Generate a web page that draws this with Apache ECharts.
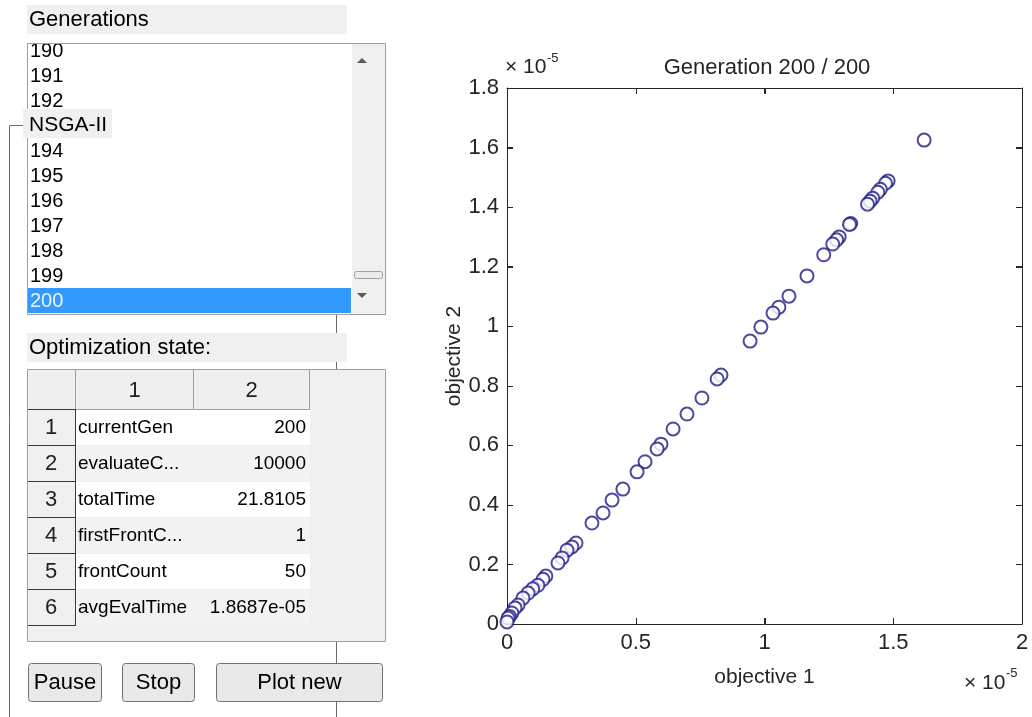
<!DOCTYPE html>
<html><head><meta charset="utf-8">
<script src="https://cdn.jsdelivr.net/npm/echarts@6/dist/echarts.min.js"></script>
<style>html,body{margin:0;padding:0;background:#fff}#chart{width:1032px;height:717px}#err{position:absolute;left:520px;top:300px;color:red;font:12px monospace;white-space:pre-wrap;width:500px}</style>
</head><body><div id="chart"></div><div id="err"></div>
<script>
window.onerror = function (m, s, l, c, e) { document.getElementById('err').textContent += m + ' ' + (e && e.stack ? e.stack : '') + '\n'; };

// ---- data (objective values in units of 1e-5) ----
const objective1 = [1.62, 1.48, 1.47, 1.45, 1.44, 1.42, 1.41, 1.40, 1.335, 1.33, 1.29, 1.28, 1.265, 1.23, 1.165, 1.095, 1.056, 1.033, 0.986, 0.944, 0.831, 0.816, 0.757, 0.699, 0.645, 0.598, 0.583, 0.536, 0.505, 0.450, 0.408, 0.373, 0.330, 0.268, 0.252, 0.233, 0.214, 0.198, 0.151, 0.140, 0.120, 0.100, 0.082, 0.062, 0.043, 0.031, 0.019, 0.010, 0.004, 0.000];
const objective2 = [1.625, 1.488, 1.48, 1.46, 1.45, 1.43, 1.42, 1.41, 1.345, 1.342, 1.30, 1.29, 1.276, 1.24, 1.169, 1.101, 1.064, 1.044, 0.997, 0.950, 0.836, 0.823, 0.759, 0.705, 0.655, 0.604, 0.588, 0.545, 0.511, 0.453, 0.416, 0.373, 0.339, 0.272, 0.259, 0.248, 0.222, 0.205, 0.161, 0.150, 0.130, 0.118, 0.104, 0.087, 0.064, 0.054, 0.037, 0.025, 0.020, 0.007];
const xTicks = [0.5, 1, 1.5];
const yTicks = [0.2, 0.4, 0.6, 0.8, 1, 1.2, 1.4, 1.6];
const generationItems = ['190','191','192','193','194','195','196','197','198','199','200'];
const selectedGeneration = '200';
const tableColumns = ['1', '2'];
const stateRowIds = ['1','2','3','4','5','6'];
const stateNames = ['currentGen', 'evaluateC...', 'totalTime', 'firstFrontC...', 'frontCount', 'avgEvalTime'];
const stateValues = ['200', '10000', '21.8105', '1', '50', '1.8687e-05'];
const buttonLabels = ['Pause', 'Stop', 'Plot new'];
const titleText = 'Generation 200 / 200';
const xName = 'objective 1', yName = 'objective 2';
const panelTitle = 'NSGA-II', listTitle = 'Generations', stateTitle = 'Optimization state:';
const scaleBase = '× 10', scaleExp = '-5';

const FONT = '"Liberation Sans", Arial, Helvetica, sans-serif';
const AX = '#262626';
const XMAX = 2, YMAX = 1.8, TICK = 6;
const G = [];
function rect(x, y, w, h, style, z, r) { const el = { type: 'rect', silent: true, shape: { x, y, width: w, height: h }, style, z: z || 1 }; if (r) el.shape.r = r; G.push(el); }
function line(x1, y1, x2, y2, stroke, z) { G.push({ type: 'line', silent: true, shape: { x1, y1, x2, y2 }, style: { stroke, lineWidth: 1 }, z: z || 1 }); }
function text(x, y, t, size, opts, z) { G.push({ type: 'text', silent: true, x, y, style: Object.assign({ text: t, font: size + 'px ' + FONT, fill: '#000', verticalAlign: 'middle', align: 'left' }, opts || {}), z: z || 3 }); }
function poly(points, fill, z) { G.push({ type: 'polygon', silent: true, shape: { points }, style: { fill }, z: z || 3 }); }

// NSGA-II panel frame
line(9.5, 125.5, 23, 125.5, '#6a6a6a', 1);
line(9.5, 125.5, 9.5, 717, '#6a6a6a', 1);
line(336.5, 125.5, 336.5, 717, '#6a6a6a', 1);
// Generations list
rect(27, 5, 320, 29, { fill: '#f0f0f0' }, 2);
text(29, 20, listTitle, 22, {}, 3);
rect(27.5, 43.5, 358, 271, { fill: '#fff', stroke: '#a0a0a0', lineWidth: 1 }, 4);
generationItems.forEach((g, i) => {
  const cy = 51 + i * 25;
  if (g === selectedGeneration) {
    rect(28, cy - 13, 323, 25, { fill: '#3399ff' }, 5);
    text(30, cy, g, 20, { fill: '#eaf3ff' }, 6);
  } else {
    text(30, cy, g, 20, {}, 6);
  }
});
rect(27, 35, 360, 8, { fill: '#fff' }, 7);
rect(352, 44, 33, 270, { fill: '#f0f0f0' }, 7);
rect(27.5, 43.5, 358, 271, { fill: 'none', stroke: '#a0a0a0', lineWidth: 1 }, 8);
poly([[357, 63], [367, 63], [362, 58]], '#5a5a5a', 8);
poly([[357, 293], [367, 293], [362, 298]], '#5a5a5a', 8);
rect(354.5, 271.5, 28, 7, { fill: '#ebebeb', stroke: '#a0a0a0', lineWidth: 1 }, 8, 2);
// NSGA-II title
rect(23, 109, 89, 29, { fill: '#f0f0f0' }, 10);
text(29, 125, panelTitle, 21, {}, 11);
// state table
rect(27, 333, 320, 29, { fill: '#f0f0f0' }, 2);
text(29, 348, stateTitle, 22, {}, 3);
rect(27.5, 369.5, 358, 272, { fill: '#f0f0f0', stroke: '#a0a0a0', lineWidth: 1 }, 2);
const colX = [28, 75.5, 193.5, 309.5];
rect(28, 370, 282, 39, { fill: '#efefef' }, 3);
[75.5, 193.5, 309.5].forEach(x => line(x, 370, x, 409, '#a0a0a0', 4));
line(75, 409.5, 310, 409.5, '#a0a0a0', 4);
tableColumns.forEach((c, i) => text((colX[i + 1] + colX[i + 2]) / 2, 391, c, 22, { align: 'center', fill: '#222' }, 5));
stateRowIds.forEach((id, i) => {
  const y0 = 409 + i * 36, cy = y0 + 19;
  rect(76, y0 + 1, 234, 35, { fill: i % 2 === 0 ? '#ffffff' : '#f3f3f3' }, 3);
  text(51, cy, id, 22, { align: 'center', fill: '#222' }, 5);
  text(78, cy, stateNames[i], 19, {}, 5);
  text(306, cy, stateValues[i], 19, { align: 'right' }, 5);
  line(28, y0 + 36.5, 75, y0 + 36.5, '#3a3a3a', 4);
});
line(28, 409.5, 75, 409.5, '#3a3a3a', 4);
line(75.5, 409, 75.5, 626, '#3a3a3a', 4);
// buttons
const btns = [[28, 73], [122, 72], [216, 166]];
buttonLabels.forEach((b, i) => {
  const [x, w] = btns[i];
  rect(x + 0.5, 663.5, w, 38, { fill: '#e9e9e9', stroke: '#707070', lineWidth: 1 }, 4, 3);
  text(x + w / 2 + 0.5, 683, b, 22, { align: 'center' }, 5);
});
// axis scale factors
text(505, 67, scaleBase, 21, { fill: AX }, 3);
text(547, 58, scaleExp, 13, { fill: AX }, 3);
text(964, 683, scaleBase, 21, { fill: AX }, 3);
text(1006, 673, scaleExp, 13, { fill: AX }, 3);

const chart = echarts.init(document.getElementById('chart'));
function mkAxis(extra) {
  return Object.assign({
    type: 'value', min: 0,
    axisLine: { show: true, onZero: false, lineStyle: { color: AX, width: 1 } },
    axisTick: { show: true, inside: true, length: TICK, lineStyle: { color: AX, width: 1 } },
    splitLine: { show: false },
    axisLabel: { show: true, color: AX, fontSize: 22, fontFamily: FONT },
    nameTextStyle: { color: AX, fontSize: 21, fontFamily: FONT }
  }, extra);
}
try {
chart.setOption({
  backgroundColor: '#fff',
  animation: false,
  title: { text: titleText, left: 762, top: 52, textAlign: 'center', textStyle: { color: AX, fontSize: 22, fontWeight: 'normal', fontFamily: FONT } },
  grid: { left: 507, right: 10, top: 88, bottom: 93 },
  xAxis: [
    mkAxis({ max: XMAX, interval: 0.5, position: 'bottom', name: xName, nameLocation: 'middle', nameGap: 43 }),
    mkAxis({ max: XMAX, interval: 0.5, position: 'top', axisLabel: { show: false } })
  ],
  yAxis: [
    mkAxis({ max: YMAX, interval: 0.2, position: 'left', name: yName, nameLocation: 'middle', nameGap: 42 }),
    mkAxis({ max: YMAX, interval: 0.2, position: 'right', axisLabel: { show: false } })
  ],
  series: [{
    type: 'scatter',
    clip: false,
    symbol: 'emptyCircle',
    symbolSize: 13,
    itemStyle: { color: '#1e1e86', borderWidth: 1.2 },
    data: objective1.map((v, i) => [v, objective2[i]])
  }],
  graphic: { elements: G }
});
// inward tick marks on all four sides, placed through the chart's own scales
const T = [];
xTicks.forEach(v => {
  const b = chart.convertToPixel({ gridIndex: 0 }, [v, 0]);
  const t = chart.convertToPixel({ gridIndex: 0 }, [v, YMAX]);
  const x = Math.round(b[0]);
  T.push({ type: 'rect', silent: true, z: 30, shape: { x: x, y: Math.round(b[1]) - TICK, width: 1, height: TICK }, style: { fill: AX } });
  T.push({ type: 'rect', silent: true, z: 30, shape: { x: x, y: Math.round(t[1]), width: 1, height: TICK }, style: { fill: AX } });
});
yTicks.forEach(v => {
  const l = chart.convertToPixel({ gridIndex: 0 }, [0, v]);
  const r = chart.convertToPixel({ gridIndex: 0 }, [XMAX, v]);
  const y = Math.round(l[1]);
  T.push({ type: 'rect', silent: true, z: 30, shape: { x: Math.round(l[0]), y: y, width: TICK, height: 1 }, style: { fill: AX } });
  T.push({ type: 'rect', silent: true, z: 30, shape: { x: Math.round(r[0]) - TICK, y: y, width: TICK, height: 1 }, style: { fill: AX } });
});
chart.setOption({ graphic: { elements: G.concat(T) } });
} catch (e) { document.getElementById('err').textContent += 'CATCH ' + e.stack; }
</script></body></html>
